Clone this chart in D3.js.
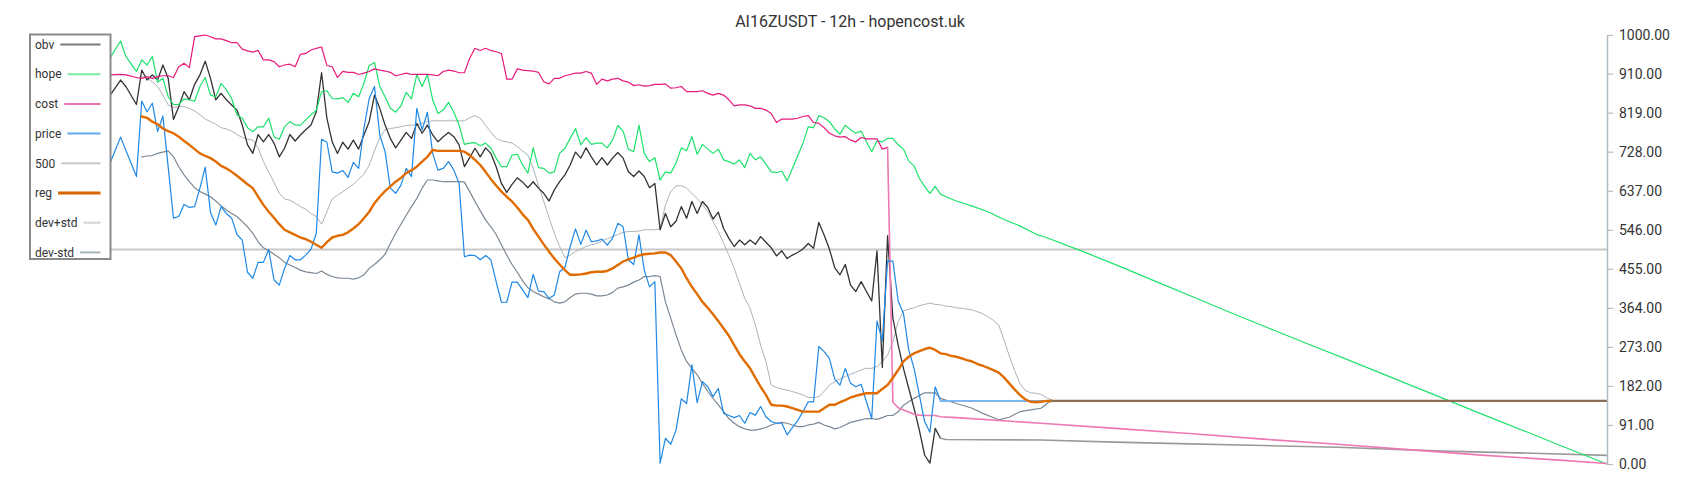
<!DOCTYPE html>
<html><head><meta charset="utf-8">
<script src="https://cdn.jsdelivr.net/npm/d3@7"></script>
<style>
html,body{margin:0;padding:0;background:#fff;}
svg{display:block;font-family:Roboto,"Noto Sans",sans-serif;}
</style></head>
<body><svg id="c" width="1700" height="500"></svg>
<script>
// ---- data: [candle index, value] ----
const titleText = "AI16ZUSDT - 12h - hopencost.uk";
const tickValues = [0, 91, 182, 273, 364, 455, 546, 637, 728, 819, 910, 1000];
const legendNames = ["obv","hope","cost","price","500","reg","dev+std","dev-std"];

const price = [[0,701],[2,762],[5,670],[6,846],[7,821],[8,841],[9,775],[10,811],[12,573],[13,577],[14,605],[15,598],[16,600],[17,643],[18,692],[19,586],[20,557],[21,600],[22,584],[23,573],[24,535],[25,522],[26,447],[27,433],[28,470],[29,470],[30,500],[31,429],[32,417],[33,456],[34,486],[35,476],[36,476],[37,487],[38,501],[39,538],[40,757],[41,750],[42,681],[43,678],[44,684],
[45,668],[46,703],[47,689],[48,782],[49,852],[50,880],[51,767],[52,728],[53,643],[54,631],[55,650],[56,689],[57,670],[58,829],[59,779],[60,820],[61,724],[62,685],[63,689],[64,705],[65,685],[66,654],[67,483],[68,487],[69,486],[70,476],[71,486],[72,476],[73,425],[74,377],[75,377],[76,424],[77,424],[78,406],[79,388],[80,442],[81,403],[82,402],[83,386],[84,394],[85,448],[86,458],[87,507],[88,548],
[89,512],[90,545],[91,518],[92,520],[93,524],[94,510],[95,526],[96,561],[97,553],[98,476],[99,465],[100,534],[101,452],[102,413],[103,425],[104,2],[105,60],[106,46],[107,79],[108,152],[109,141],[110,231],[111,143],[112,192],[113,180],[114,157],[115,176],[116,118],[117,113],[118,108],[119,113],[120,95],[121,120],[122,114],[123,134],[124,110],[125,99],[126,95],[127,95],[128,68],[129,85],[130,101],[131,122],[132,145],[133,145],
[134,274],[135,262],[136,246],[137,198],[138,184],[139,223],[140,188],[141,180],[142,186],[143,145],[144,106],[145,333],[146,287],[147,473],[148,473],[149,380],[150,351],[151,266],[152,223],[153,161],[154,99],[155,74],[156,180],[157,147],[283,147]];

const obv = [[0,859],[2,895],[3,880],[5,838],[6,918],[7,895],[8,907],[9,895],[10,930],[11,899],[12,803],[13,833],[14,868],[15,849],[16,885],[17,907],[18,939],[19,899],[20,849],[21,864],[22,849],[23,837],[24,825],[25,790],[26,744],[27,724],[28,768],[29,751],[30,768],[31,748],[32,716],[33,736],[34,768],[35,753],[36,767],[37,779],[38,790],[39,821],[40,912],[41,806],[42,751],[43,724],[44,750],
[45,734],[46,755],[47,734],[48,767],[49,798],[50,860],[51,829],[52,790],[53,759],[54,737],[55,755],[56,773],[57,759],[58,794],[59,771],[60,790],[61,767],[62,751],[63,763],[64,773],[65,763],[66,744],[67,693],[68,714],[69,736],[70,716],[71,737],[72,724],[73,693],[74,654],[75,633],[76,652],[77,667],[78,657],[79,644],[80,658],[81,643],[82,631],[83,613],[84,639],[85,658],[86,674],[87,697],[88,727],
[89,713],[90,737],[91,716],[92,697],[93,714],[94,697],[95,713],[96,726],[97,713],[98,681],[99,670],[100,683],[101,670],[102,644],[103,654],[104,546],[105,584],[106,553],[107,566],[108,600],[109,573],[110,612],[111,584],[112,612],[113,598],[114,571],[115,587],[116,549],[117,526],[118,507],[119,522],[120,511],[121,522],[122,512],[123,530],[124,517],[125,504],[126,485],[127,497],[128,479],[129,487],[130,493],[131,501],[132,514],[133,503],
[134,563],[135,534],[136,501],[137,458],[138,441],[139,465],[140,417],[141,402],[142,425],[143,402],[144,380],[145,497],[146,225],[147,532],[148,340],[149,277],[150,223],[151,176],[152,130],[153,79],[154,21],[155,2],[156,83],[157,60],
[158,57],[176,56],[190,51],[204,47],[218,43],[232,39],[252,30],[266,26],[283,20]];

const hope = [[0,946],[2,986],[3,950],[5,915],[6,942],[7,930],[8,950],[9,890],[10,899],[11,856],[12,838],[13,838],[14,851],[15,849],[16,846],[17,880],[18,901],[19,860],[20,856],[21,887],[22,872],[23,852],[24,814],[25,806],[26,784],[27,775],[28,786],[29,786],[30,806],[31,763],[32,757],[33,786],[34,798],[35,790],[36,790],[37,802],[38,814],[39,825],[40,868],[41,870],[42,852],[43,851],[44,854],
[45,843],[46,864],[47,856],[48,887],[49,929],[50,936],[51,880],[52,856],[53,829],[54,820],[55,835],[56,866],[57,851],[58,908],[59,880],[60,908],[61,849],[62,817],[63,825],[64,843],[65,820],[66,790],[67,745],[68,748],[69,749],[70,742],[71,748],[72,736],[73,713],[74,693],[75,693],[76,720],[77,722],[78,697],[79,678],[80,737],[81,691],[82,689],[83,678],[84,681],[85,724],[86,736],[87,759],[88,782],
[89,744],[90,761],[91,745],[92,748],[93,748],[94,737],[95,755],[96,789],[97,776],[98,734],[99,728],[100,790],[101,724],[102,705],[103,714],[104,662],[105,681],[106,678],[107,701],[108,737],[109,730],[110,763],[111,722],[112,745],[113,734],[114,724],[115,734],[116,709],[117,705],[118,699],[119,709],[120,691],[121,724],[122,709],[123,716],[124,699],[125,681],[126,679],[127,683],[128,660],[129,689],[130,718],[131,748],[132,786],[133,784],
[134,812],[135,807],[136,798],[137,781],[138,769],[139,790],[140,779],[141,771],[142,776],[143,751],[144,728],[145,753],[146,751],[147,759],[148,759],[149,744],[150,734],[151,706],[152,695],[153,666],[154,647],[155,631],[156,647],[157,629],[158,623],[160,613],[163,601],[166,588],[169,570],[172,555],[175,536],[177,528],
[184,495],[191,460],[198,424],[205,388],[212,352],[219,317],[226,282],[233,248],[240,213],[247,178],[254,143],[261,108],[268,74],[275,39],[283,0]];

const cost = [[0,907],[2,908],[3,907],[5,901],[6,899],[7,903],[8,899],[9,903],[10,905],[11,905],[12,901],[13,926],[14,934],[15,924],[16,996],[17,998],[18,1000],[19,996],[20,991],[21,991],[22,987],[23,982],[24,982],[25,967],[26,963],[27,960],[28,964],[29,942],[30,942],[31,938],[32,926],[33,930],[34,932],[35,926],[36,955],[37,957],[38,965],[39,969],[40,972],[41,929],[42,926],[43,901],[44,915],
[45,913],[46,913],[47,908],[48,911],[49,915],[50,921],[51,918],[52,916],[53,913],[54,905],[55,908],[56,911],[57,908],[58,908],[59,908],[60,908],[61,907],[62,905],[63,915],[64,918],[65,916],[66,912],[67,912],[68,946],[69,969],[70,964],[71,969],[72,964],[73,961],[74,957],[75,897],[76,897],[77,921],[78,918],[79,917],[80,916],[81,913],[82,891],[83,886],[84,899],[85,899],[86,905],[87,908],[88,911],
[89,911],[90,915],[91,911],[92,885],[93,897],[94,893],[95,897],[96,899],[97,893],[98,890],[99,882],[100,884],[101,881],[102,882],[103,885],[104,885],[105,886],[106,876],[107,877],[108,880],[109,868],[110,868],[111,868],[112,870],[113,864],[114,860],[115,864],[116,860],[117,849],[118,835],[119,837],[120,837],[121,835],[122,829],[123,829],[124,825],[125,817],[126,796],[127,804],[128,804],[129,804],[130,806],[131,810],[132,812],[133,796],
[134,794],[135,784],[136,771],[137,765],[138,762],[139,763],[140,755],[141,751],[142,761],[143,758],[144,758],[145,758],[146,734],[147,738],[148,144],[149,131],[150,126],[151,121],[152,116],[153,114],[154,113],[155,113],[156,113],[157,110],[160,108],
[176,95],[190,83],[204,71],[218,58],[232,46],[246,33],[260,20],[274,9],[283,1]];

const level500 = [[0,500],[283,500]];

const reg = [[6,810],[7,807],[8,798],[9,792],[10,782],[11,776],[12,771],[13,763],[14,753],[15,744],[16,734],[17,724],[18,718],[19,713],[20,705],[21,695],[22,689],[23,681],[24,672],[25,662],[26,652],[27,643],[28,623],[29,604],[30,588],[31,574],[32,559],[33,546],[34,540],[35,534],[36,528],[37,524],[38,518],[39,511],[40,504],[41,517],[42,528],[43,532],[44,534],[45,540],[46,549],[47,559],[48,573],[49,588],[50,608],[51,623],[52,636],[53,647],[54,658],[55,667],[56,678],[57,685],[58,693],[59,705],[60,716],[61,732],[62,730],[63,730],[64,730],[65,730],[66,730],[67,728],[68,720],[69,709],[70,697],[71,681],[72,664],[73,649],[74,635],[75,623],[76,612],[77,598],[78,582],[79,569],[80,548],[81,530],[82,512],[83,495],[84,479],[85,465],[86,452],[87,441],[88,441],[89,442],[90,444],[91,447],[92,448],[93,448],[94,450],[95,456],[96,464],[97,472],[98,477],[99,481],[100,486],[101,489],[102,490],[103,491],[104,493],[105,493],[106,487],[107,472],[108,456],[109,433],[110,413],[111,396],[112,378],[113,364],[114,349],[115,333],[116,316],[117,299],[118,277],[119,256],[120,239],[121,223],[122,201],[123,180],[124,161],[125,138],[126,136],[127,136],[128,134],[129,130],[130,126],[131,122],[132,122],[133,122],[134,122],[135,130],[136,138],[137,138],[138,144],[139,149],[140,155],[141,159],[142,162],[143,165],[144,165],[145,165],[146,175],[147,184],[148,201],[149,219],[150,239],[151,250],[152,258],[153,263],[154,268],[155,271],[156,266],[157,258],[158,256],[159,252],[160,250],[161,246],[162,242],[163,239],[164,233],[165,229],[166,224],[167,219],[168,213],[169,202],[170,188],[171,174],[172,161],[173,151],[174,145],[175,144],[176,145],[177,147],[178,147],[283,147]];

const devUp = [[6,903],[7,899],[8,891],[9,880],[10,860],[11,837],[12,831],[13,833],[14,833],[15,829],[16,823],[17,814],[18,804],[19,798],[20,792],[21,784],[22,781],[23,776],[24,768],[25,761],[26,757],[27,755],[28,737],[29,705],[30,681],[31,657],[32,631],[33,618],[34,615],[35,608],[36,600],[37,594],[38,584],[39,577],[40,559],[41,588],[42,618],[43,626],[44,635],[45,643],[46,652],[47,664],[48,675],[49,697],[50,730],[51,761],[52,779],[53,782],[54,784],[55,786],[56,789],[57,790],[58,790],[59,794],[60,798],[61,800],[62,800],[63,800],[64,800],[65,800],[66,800],[67,800],[68,807],[69,812],[70,806],[71,790],[72,773],[73,759],[74,753],[75,751],[76,748],[77,740],[78,730],[79,720],[80,689],[81,650],[82,612],[83,574],[84,538],[85,507],[86,481],[87,487],[88,495],[89,501],[90,507],[91,511],[92,514],[93,520],[94,525],[95,530],[96,535],[97,540],[98,542],[99,542],[100,543],[101,546],[102,546],[103,546],[104,548],[105,604],[106,635],[107,648],[108,649],[109,643],[110,631],[111,619],[112,604],[113,588],[114,565],[115,542],[116,514],[117,487],[118,456],[119,421],[120,386],[121,363],[122,324],[123,277],[124,239],[125,184],[126,178],[127,175],[128,172],[129,169],[130,165],[131,161],[132,155],[133,155],[134,157],[135,169],[136,184],[137,192],[138,198],[139,204],[140,209],[141,214],[142,219],[143,223],[144,223],[145,227],[146,239],[147,254],[148,285],[149,332],[150,357],[151,361],[152,364],[153,369],[154,372],[155,375],[156,372],[157,371],[158,368],[159,367],[160,364],[161,363],[162,361],[163,359],[164,355],[165,350],[166,343],[167,335],[168,324],[169,290],[170,252],[171,218],[172,188],[173,172],[174,166],[175,165],[176,162],[177,155],[178,149]];

const devDn = [[6,716],[7,718],[8,719],[9,724],[10,727],[11,730],[12,716],[13,693],[14,674],[15,658],[16,644],[17,635],[18,629],[19,623],[20,613],[21,602],[22,592],[23,584],[24,577],[25,565],[26,553],[27,538],[28,518],[29,504],[30,497],[31,489],[32,481],[33,470],[34,464],[35,458],[36,452],[37,448],[38,446],[39,444],[40,450],[41,442],[42,437],[43,434],[44,433],[45,433],[46,431],[47,434],[48,441],[49,456],[50,465],[51,476],[52,489],[53,514],[54,538],[55,559],[56,580],[57,600],[58,619],[59,643],[60,662],[61,662],[62,660],[63,658],[64,658],[65,658],[66,658],[67,657],[68,635],[69,612],[70,590],[71,569],[72,553],[73,535],[74,511],[75,487],[76,465],[77,447],[78,427],[79,411],[80,402],[81,396],[82,390],[83,385],[84,378],[85,375],[86,378],[87,388],[88,396],[89,398],[90,398],[91,396],[92,392],[93,392],[94,394],[95,400],[96,410],[97,413],[98,417],[99,424],[100,429],[101,437],[102,437],[103,439],[104,437],[105,378],[106,340],[107,301],[108,266],[109,239],[110,223],[111,208],[112,188],[113,169],[114,153],[115,138],[116,122],[117,106],[118,95],[119,87],[120,82],[121,79],[122,79],[123,82],[124,85],[125,91],[126,95],[127,97],[128,95],[129,91],[130,87],[131,87],[132,91],[133,93],[134,97],[135,91],[136,87],[137,82],[138,85],[139,91],[140,97],[141,100],[142,103],[143,106],[144,106],[145,104],[146,108],[147,113],[148,113],[149,122],[150,137],[152,153],[154,166],[156,166],[157,153],[160,141],[163,130],[165,118],[168,103],[170,109],[172,122],[174,126],[176,130],[178,149]];

// ---- layout ----
const svg = d3.select("#c");
const x = d3.scaleLinear().domain([0, 283]).range([110, 1607]);
const y = d3.scaleLinear().domain([0, 1000]).range([464, 35]);
const line = d3.line().x(d => x(d[0])).y(d => y(d[1]));

function draw(data, from, to, color, width) {
  const seg = data.filter(d => d[0] >= from && d[0] <= to);
  svg.append("path").datum(seg).attr("d", line)
    .attr("fill", "none").attr("stroke", color).attr("stroke-width", width)
    .attr("stroke-linejoin", "round").attr("stroke-linecap", "round");
}

// title
svg.append("text").attr("x", 850).attr("y", 27).attr("text-anchor", "middle")
  .attr("font-size", 16).attr("fill", "#333").text(titleText);

// series
draw(level500, 0, 283, "#c8c8c8", 2);
draw(devUp, 0, 283, "#a9b3bb", 1);
draw(devDn, 0, 283, "#7b8894", 1.2);
draw(obv, 0, 157, "#333333", 1.3);
draw(obv, 157, 283, "#9a9a9a", 1.6);
draw(hope, 0, 283, "#1ee16c", 1.2);
draw(cost, 0, 147, "#e8197c", 1.2);
draw(cost, 147, 283, "#ef78b2", 1.6);
draw(price, 0, 157, "#1e88e5", 1.2);
draw(price, 157, 283, "#7db6ee", 2);
draw(reg, 0, 178, "#e06c00", 2.4);
draw(reg, 178, 283, "#8d6e52", 2.2);

// right axis
const axis = d3.axisRight(y).tickValues(tickValues).tickFormat(d3.format(".2f"))
  .tickSize(6).tickSizeOuter(0).tickPadding(6);
const ag = svg.append("g").attr("transform", "translate(1607,0)").call(axis);
ag.select(".domain").attr("stroke", "#b0bcc3").attr("stroke-width", 1.5);
ag.selectAll(".tick line").attr("stroke", "#b0bcc3").attr("stroke-width", 1.2);
ag.selectAll(".tick text").attr("fill", "#333").attr("font-size", 14)
  .attr("font-family", "Roboto, sans-serif");

// legend
const legendColors = ["#7a7a7a","#7ee9a6","#ee6fae","#66aaea","#c8c8c8","#d96500","#d0d5d9","#a9b3ba"];
const legendWidths = [2,2,2,2,2,3,2,2];
svg.append("rect").attr("x", 30).attr("y", 34.5).attr("width", 80.5).attr("height", 224.5)
  .attr("fill", "#fff").attr("stroke", "#8a8a8a").attr("stroke-width", 2);
legendNames.forEach((n, i) => {
  const cy = 44.5 + i * 29.7;
  const t = svg.append("text").attr("x", 35).attr("y", cy).attr("dy", "0.35em")
    .attr("font-size", 12).attr("fill", "#333").text(n);
  const w = t.node().getComputedTextLength();
  svg.append("line").attr("x1", 35 + w + 6).attr("x2", 100.5).attr("y1", cy).attr("y2", cy)
    .attr("stroke", legendColors[i]).attr("stroke-width", legendWidths[i]);
});
</script>
</body></html>
